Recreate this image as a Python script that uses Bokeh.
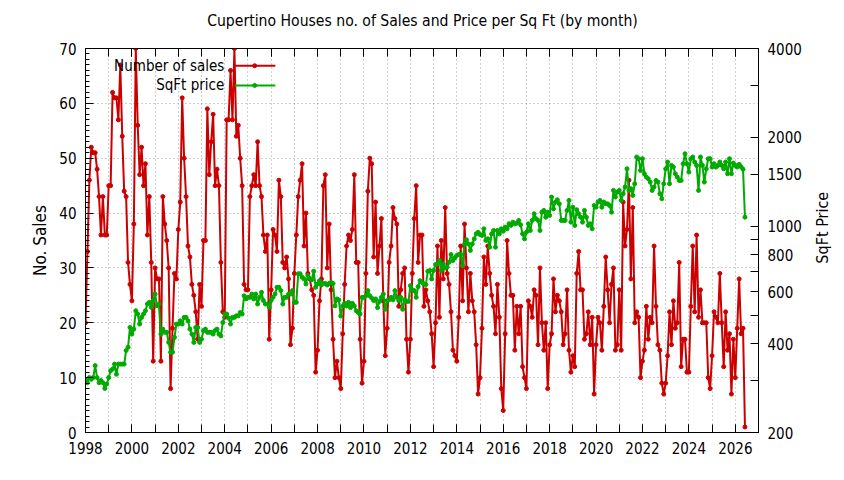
import math
import pandas as pd
from bokeh.plotting import figure
from bokeh.layouts import row, column
from bokeh.models import (Range1d, LinearAxis, LogAxis, LogScale, SingleIntervalTicker,
                          FixedTicker, Label, ColumnDataSource, Grid, CustomJSTickFormatter)
from bokeh.embed import file_html
from bokeh.resources import INLINE
from bokeh.core.properties import value

# ---------------- data (monthly, starting Jan 1998) ----------------
start_month = "1998-01-01"

sales = [
    20, 33, 46, 52, 51, 51, 48, 43, 36, 43, 36, 36,   # 1998
    45, 45, 62, 61, 61, 57, 67, 54, 44, 43, 31, 27,   # 1999
    24, 38, 70, 56, 47, 52, 45, 49, 36, 43, 31, 13,   # 2000
    30, 28, 28, 13, 43, 38, 35, 30, 8, 19, 29, 28,    # 2001
    37, 42, 61, 50, 43, 34, 32, 27, 25, 22, 17, 27,   # 2002
    23, 35, 35, 59, 47, 53, 58, 45, 48, 45, 31, 22,   # 2003
    21, 57, 57, 66, 57, 70, 54, 56, 50, 45, 27, 26,   # 2004
    26, 43, 45, 47, 45, 53, 45, 43, 36, 33, 36, 17,   # 2005
    26, 37, 36, 33, 46, 43, 31, 30, 32, 28, 16, 19,   # 2006
    29, 36, 43, 46, 49, 34, 40, 29, 28, 26, 25, 11,   # 2007
    15, 24, 28, 45, 47, 30, 38, 26, 17, 10, 13, 10,   # 2008
    8, 18, 27, 34, 36, 35, 37, 47, 31, 31, 17, 9,     # 2009
    13, 29, 44, 50, 49, 32, 42, 29, 34, 39, 24, 14,   # 2010
    19, 31, 34, 41, 39, 38, 23, 26, 29, 30, 17, 11,   # 2011
    17, 29, 39, 45, 31, 36, 36, 23, 26, 24, 22, 18,   # 2012
    12, 20, 34, 21, 35, 28, 41, 29, 27, 22, 15, 14,   # 2013
    13, 21, 34, 24, 38, 30, 22, 29, 24, 22, 16, 7,    # 2014
    10, 19, 32, 27, 34, 29, 25, 23, 18, 27, 21, 8,    # 2015
    4, 18, 35, 29, 25, 25, 15, 23, 18, 23, 12, 10,    # 2016
    8, 24, 23, 21, 26, 25, 16, 30, 20, 15, 20, 8,     # 2017
    16, 18, 28, 22, 25, 24, 22, 16, 18, 26, 15, 11,   # 2018
    14, 12, 29, 33, 26, 26, 17, 18, 22, 16, 21, 7,    # 2019
    16, 21, 20, 15, 23, 32, 26, 20, 27, 30, 15, 16,   # 2020
    26, 15, 42, 34, 37, 46, 28, 41, 20, 22, 21, 10,   # 2021
    13, 15, 23, 17, 21, 20, 34, 23, 16, 15, 9, 7,     # 2022
    9, 14, 22, 16, 24, 19, 20, 31, 12, 17, 17, 11,    # 2023
    11, 23, 34, 22, 36, 21, 26, 20, 20, 20, 10, 8,    # 2024
    14, 22, 21, 20, 29, 20, 12, 22, 15, 18, 7, 17,    # 2025
    10, 19, 28, 18, 19, 1,                            # 2026
]

sqft_price = [
    302, 295, 307, 303, 307, 337, 307, 295, 300, 295, 282, 292,            # 1998
    307, 324, 328, 341, 315, 341, 341, 341, 341, 379, 389, 454,            # 1999
    431, 448, 517, 504, 466, 491, 504, 517, 545, 552, 531, 560,            # 2000
    589, 538, 545, 431, 448, 437, 437, 404, 374, 374, 420, 466,            # 2001
    466, 478, 466, 491, 491, 478, 448, 431, 404, 454, 454, 404,            # 2002
    414, 443, 448, 437, 437, 437, 431, 443, 448, 431, 425, 472,            # 2003
    504, 504, 488, 466, 491, 491, 497, 497, 510, 504, 581, 567,            # 2004
    574, 574, 589, 567, 589, 545, 574, 597, 560, 545, 545, 531,            # 2005
    560, 574, 589, 621, 621, 605, 545, 574, 574, 589, 589, 605,            # 2006
    552, 552, 690, 690, 672, 663, 637, 681, 664, 659, 704, 621,            # 2007
    637, 653, 632, 640, 640, 632, 640, 645, 640, 537, 567, 563,            # 2008
    496, 537, 548, 537, 552, 530, 548, 537, 517, 510, 504, 574,            # 2009
    574, 581, 605, 581, 571, 560, 567, 530, 556, 574, 589, 523,            # 2010
    560, 563, 574, 563, 605, 574, 560, 574, 523, 563, 556, 556,            # 2011
    629, 608, 605, 574, 624, 654, 645, 637, 634, 704, 708, 663,            # 2012
    708, 741, 745, 765, 708, 745, 722, 726, 755, 802, 765, 782,            # 2013
    796, 802, 802, 735, 871, 900, 871, 828, 871, 906, 942, 954,            # 2014
    937, 930, 980, 895, 906, 849, 942, 967, 849, 967, 942, 980,            # 2015
    962, 993, 980, 1019, 1006, 1032, 1019, 1024, 1046, 1011, 942, 906,     # 2016
    954, 1019, 967, 1046, 1102, 1060, 1046, 967, 1116, 1131, 1073, 1116,   # 2017
    1088, 1255, 1145, 1207, 1229, 1191, 1046, 1046, 1046, 1131, 1223, 1032,  # 2018
    1160, 1006, 1137, 1102, 1073, 1032, 1131, 1073, 1006, 1019, 980, 1175,   # 2019
    1160, 1207, 1223, 1160, 1207, 1191, 1191, 1175, 1116, 1322, 1255, 1305,  # 2020
    1322, 1223, 1288, 1357, 1565, 1322, 1340, 1271, 1393, 1716, 1693, 1545,  # 2021
    1693, 1506, 1467, 1448, 1411, 1322, 1357, 1429, 1411, 1288, 1239, 1393,  # 2022
    1565, 1650, 1393, 1607, 1586, 1506, 1467, 1429, 1429, 1628, 1760, 1628,  # 2023
    1525, 1693, 1716, 1650, 1607, 1322, 1716, 1607, 1411, 1565, 1693, 1693,  # 2024
    1586, 1628, 1586, 1607, 1650, 1607, 1565, 1650, 1506, 1693, 1506, 1637,  # 2025
    1607, 1586, 1620, 1590, 1560, 1073,                                      # 2026
]

price_ticks = [200, 300, 400, 500, 600, 700, 800, 900, 1000, 1500, 2000, 3000, 4000]
price_tick_labels = ["200", "", "400", "", "600", "", "800", "", "1000", "1500", "2000", "", "4000"]

title_text = "Cupertino Houses no. of Sales and Price per Sq Ft (by month)"
sales_label = "Number of sales"
price_label = "SqFt price"
left_axis_label = "No. Sales"
right_axis_label = "SqFt Price"

# ---------------- styling / layout ----------------
FONT = "DejaVu Sans Condensed, DejaVu Sans"
RED = "#cc0000"
GREEN = "#00aa00"
GRID = "#a0a0a0"
PAGE_W, PAGE_H = 844, 480
TITLE_H = 30          # band on top that carries the title
STRIP_W = 40          # narrow strip at the right that carries the right axis title
PLOT_H = PAGE_H - TITLE_H


def bare_figure(w, h):
    f = figure(width=w, height=h, x_range=Range1d(0, w), y_range=Range1d(0, h),
               x_axis_type=None, y_axis_type=None, output_backend="svg",
               toolbar_location=None, min_border=0)
    f.outline_line_color = None
    f.background_fill_color = "white"
    f.border_fill_color = "white"
    return f


dates = pd.date_range(start_month, periods=len(sales), freq="MS")
xs = [d.year + (d.month - 1) / 12.0 for d in dates]

src = ColumnDataSource(dict(x=xs, sales=sales, price=sqft_price))

p = figure(width=PAGE_W - STRIP_W, height=PLOT_H, x_range=Range1d(1998, 2027),
           y_range=Range1d(0, 70), x_axis_type=None, y_axis_type=None,
           output_backend="svg", toolbar_location=None,
           min_border_left=85, min_border_right=85 - STRIP_W,
           min_border_top=48 - TITLE_H, min_border_bottom=48)
p.background_fill_color = "white"
p.border_fill_color = "white"
p.outline_line_color = "black"
p.outline_line_width = 1

p.extra_y_ranges = {"price": Range1d(200, 4000)}
p.extra_y_scales = {"price": LogScale()}


def style_axis(ax, tick_len=8, minor_len=4):
    ax.axis_line_color = "black"
    ax.major_tick_in = tick_len
    ax.major_tick_out = 0
    ax.minor_tick_in = minor_len
    ax.minor_tick_out = 0
    ax.major_tick_line_color = "black"
    ax.minor_tick_line_color = "black"
    ax.major_label_text_font = FONT
    ax.major_label_text_font_size = "15px"
    ax.major_label_text_color = "black"
    ax.axis_label_text_font = FONT
    ax.axis_label_text_font_size = "16px"
    ax.axis_label_text_font_style = "normal"
    ax.axis_label_text_color = "black"


# left axis
yaxis = LinearAxis(ticker=SingleIntervalTicker(interval=10, num_minor_ticks=10),
                   axis_label=left_axis_label)
style_axis(yaxis, 8, 4)
yaxis.axis_label_text_font_size = "17px"
yaxis.major_label_standoff = 9
yaxis.axis_label_standoff = 6
p.add_layout(yaxis, "left")

# right axis (log): ticks and tick labels
raxis = LogAxis(y_range_name="price",
                ticker=FixedTicker(ticks=price_ticks, minor_ticks=[]))
style_axis(raxis, 8, 0)
raxis.major_label_overrides = {t: lab for t, lab in zip(price_ticks, price_tick_labels)}
raxis.major_label_standoff = 9
p.add_layout(raxis, "right")

# bottom axis
xaxis = LinearAxis(ticker=SingleIntervalTicker(interval=2, num_minor_ticks=2))
style_axis(xaxis, 8, 8)
xaxis.major_label_standoff = 9
p.add_layout(xaxis, "below")

# top mirror ticks
taxis = LinearAxis(ticker=SingleIntervalTicker(interval=2, num_minor_ticks=2),
                   formatter=CustomJSTickFormatter(code="return ''"))
style_axis(taxis, 8, 8)
taxis.major_label_standoff = 0
taxis.major_label_text_font_size = "1px"
p.add_layout(taxis, "above")

# grids
p.add_layout(Grid(dimension=0, ticker=SingleIntervalTicker(interval=1),
                  grid_line_color=GRID, grid_line_dash="1 3", grid_line_width=1))
p.add_layout(Grid(dimension=1, ticker=SingleIntervalTicker(interval=10),
                  grid_line_color=GRID, grid_line_dash="1 3", grid_line_width=1))

# data series
p.line("x", "sales", source=src, line_color=RED, line_width=2)
p.scatter("x", "sales", source=src, fill_color=RED, line_color=RED, size=4)
p.line("x", "price", source=src, y_range_name="price", line_color=GREEN, line_width=2)
p.scatter("x", "price", source=src, y_range_name="price", fill_color=GREEN,
          line_color=GREEN, size=4)

# key (text on the left, sample on the right, as in the original)
KEY_TEXT_X = 2003.98
KEY_Y = [66.86, 63.27]
KEY_LINE_X0, KEY_LINE_X1, KEY_MARK_X = 2004.42, 2006.18, 2005.29
for lab, ky, col in zip([sales_label, price_label], KEY_Y, [RED, GREEN]):
    p.add_layout(Label(x=KEY_TEXT_X, y=ky, text=lab, text_align="right",
                       text_baseline="middle", text_font=FONT,
                       text_font_size="15px", text_color="black"))
    p.line([KEY_LINE_X0, KEY_LINE_X1], [ky, ky], line_color=col, line_width=2)
    p.scatter([KEY_MARK_X], [ky], fill_color=col, line_color=col, size=4)

# title band
head = bare_figure(PAGE_W, TITLE_H)
head.add_layout(Label(x=PAGE_W / 2, y=TITLE_H - 20, text=title_text,
                      text_align="center", text_baseline="middle", text_font=FONT,
                      text_font_size="15.6px", text_color="black"))

# right strip: the right axis title, reading bottom-to-top as in the original
strip = bare_figure(STRIP_W, PLOT_H)
strip.add_layout(Label(x=18, y=PLOT_H - (240 - TITLE_H), text=right_axis_label,
                       angle=math.pi / 2, text_align="center", text_baseline="middle",
                       text_font=FONT, text_font_size="16px", text_color="black"))

layout = column(head, row(p, strip, spacing=0), spacing=0)
open("out.html", "w").write(file_html(layout, INLINE))
